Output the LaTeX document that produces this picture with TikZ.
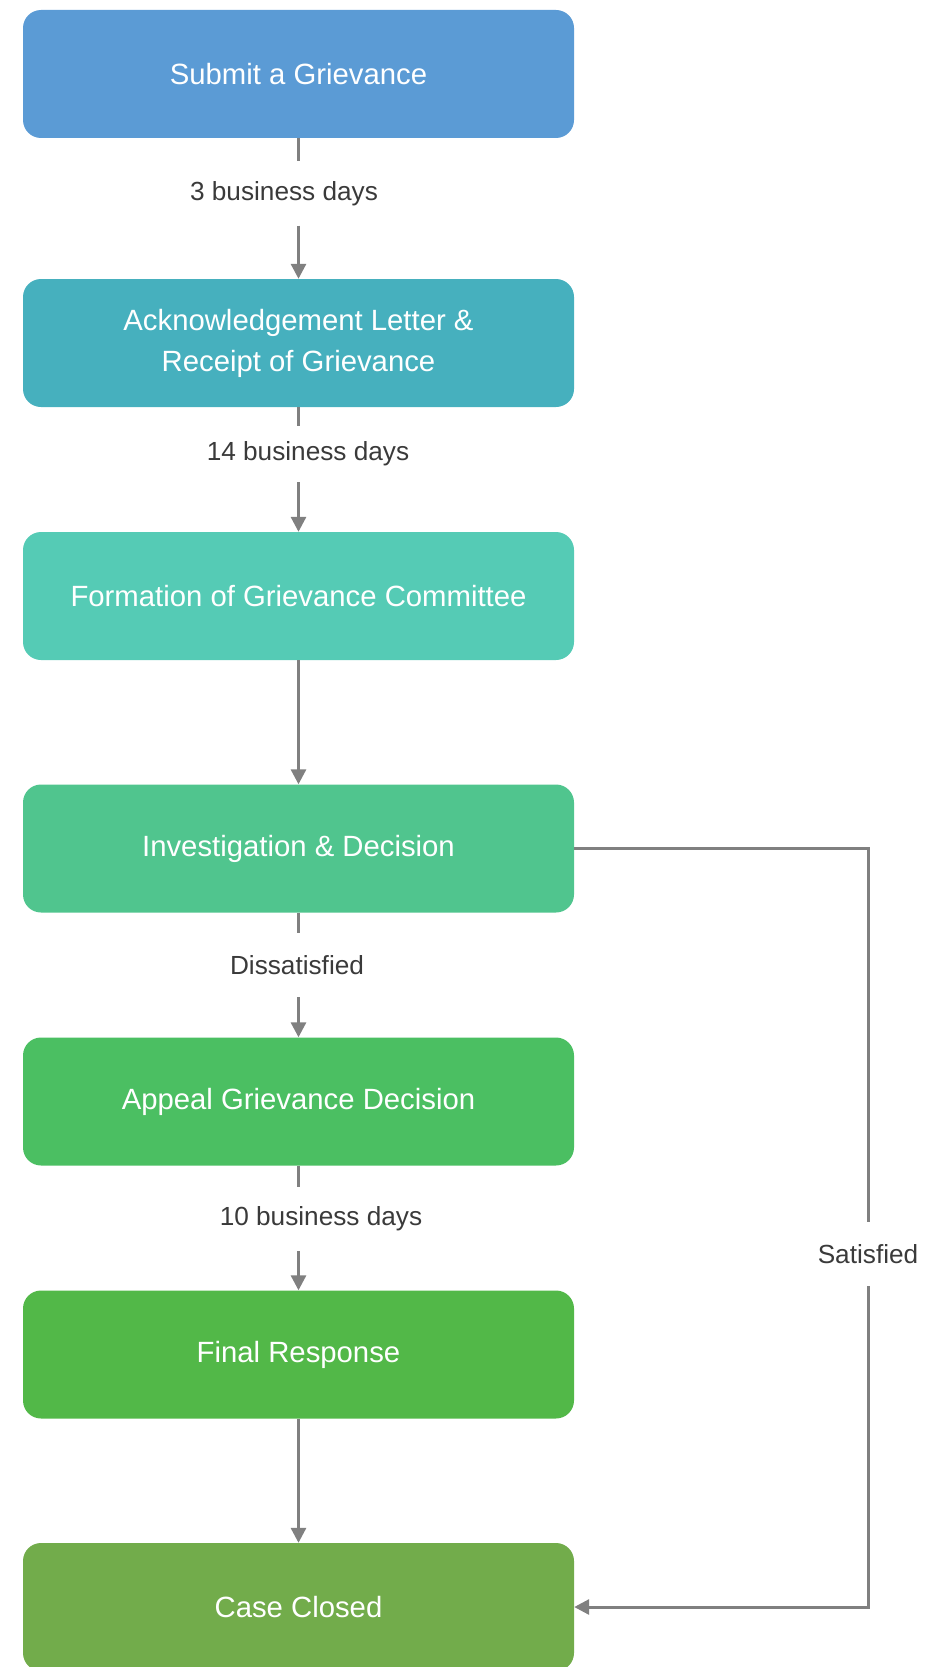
\documentclass[tikz,border=0pt]{standalone}
\usepackage{fontspec}
\setmainfont{Liberation Sans}
\usetikzlibrary{arrows.meta}

\definecolor{cBlue}{HTML}{5B9BD5}
\definecolor{cTeal}{HTML}{46B0BE}
\definecolor{cAqua}{HTML}{55CBB5}
\definecolor{cMint}{HTML}{50C58E}
\definecolor{cGreen}{HTML}{4BBF62}
\definecolor{cLeaf}{HTML}{52B848}
\definecolor{cOlive}{HTML}{72AC4B}
\definecolor{cLine}{HTML}{808080}
\definecolor{cLabel}{HTML}{3A3A3A}

\newcommand{\lowered}[1]{\raisebox{-2pt}{#1}}

\tikzset{
  stepbox/.style={rectangle, rounded corners=18pt, minimum width=551pt,
    minimum height=128pt, inner sep=0pt, text=white, align=center,
    font=\fontsize{29.3}{41}\selectfont},
  steplabel/.style={inner sep=0pt, minimum height=64pt, text=cLabel,
    font=\fontsize{26.2}{30}\selectfont},
  link/.style={draw=cLine, line width=3pt},
  linkarrow/.style={link, -{Triangle[length=15pt,width=15pt]}}
}

\begin{document}
\begin{tikzpicture}[x=1pt,y=-1pt]
\useasboundingbox (0,0) rectangle (925,1667);

% process steps
\node[stepbox, fill=cBlue]  (b1) at (298.5,74)     {Submit a Grievance};
\node[stepbox, fill=cTeal]  (b2) at (298.5,343)    {Acknowledgement Letter \&\\Receipt of Grievance};
\node[stepbox, fill=cAqua]  (b3) at (298.5,596)    {Formation of Grievance Committee};
\node[stepbox, fill=cMint]  (b4) at (298.5,848.5)  {Investigation \& Decision};
\node[stepbox, fill=cGreen] (b5) at (298.5,1101.5) {Appeal Grievance Decision};
\node[stepbox, fill=cLeaf]  (b6) at (298.5,1354.5) {Final Response};
\node[stepbox, fill=cOlive] (b7) at (298.5,1607)   {Case Closed};

% connector labels
\node[steplabel] (l1) at (284,193.5) {\lowered{3 business days}};
\node[steplabel, minimum height=56pt] (l2) at (308,454) {\lowered{14 business days}};
\node[steplabel] (l3) at (297,965)   {\lowered{Dissatisfied}};
\node[steplabel] (l4) at (321,1219)  {\lowered{10 business days}};
\node[steplabel] (l5) at (868,1254)  {\lowered{Satisfied}};

% main flow
\draw[link] (b1.south) -- (b1.south |- l1.north);
\draw[linkarrow] (b1.south |- l1.south) -- (b2.north);
\draw[link] (b2.south) -- (b2.south |- l2.north);
\draw[linkarrow] (b2.south |- l2.south) -- (b3.north);
\draw[linkarrow] (b3.south) -- (b4.north);
\draw[link] (b4.south) -- (b4.south |- l3.north);
\draw[linkarrow] (b4.south |- l3.south) -- (b5.north);
\draw[link] (b5.south) -- (b5.south |- l4.north);
\draw[linkarrow] (b5.south |- l4.south) -- (b6.north);
\draw[linkarrow] (b6.south) -- (b7.north);

% satisfied branch
\draw[link] (b4.east) -| (l5.north);
\draw[linkarrow] (l5.south) |- (b7.east);
\end{tikzpicture}
\end{document}
